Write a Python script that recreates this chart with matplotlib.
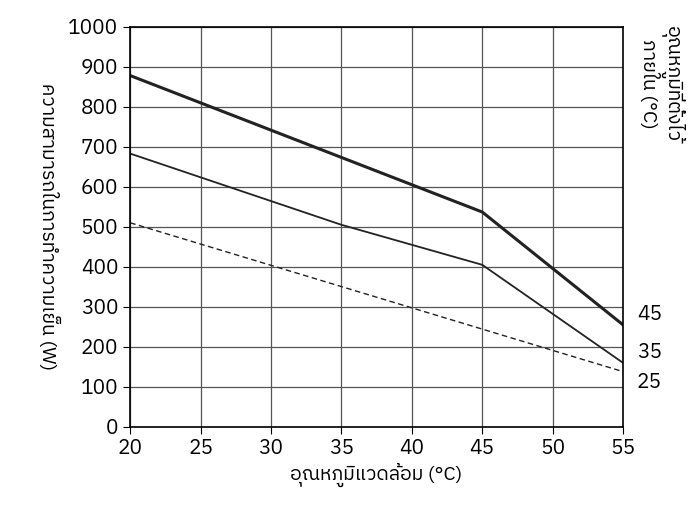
import matplotlib
matplotlib.use("Agg")
import matplotlib.pyplot as plt
from matplotlib import font_manager

# Pick up a font with Thai glyphs
thai_fonts = [f.name for f in font_manager.fontManager.ttflist if "thai" in f.name.lower() or "tahoma" in f.name.lower()]
fams = list(dict.fromkeys(thai_fonts)) + ["DejaVu Sans"]
plt.rcParams["font.family"] = fams

x_45 = [20, 45, 55]
y_45 = [878, 537, 255]
x_35 = [20, 35, 45, 55]
y_35 = [683, 505, 405, 160]
x_25 = [20, 55]
y_25 = [510, 138]
line_labels = ["45", "35", "25"]
label_y = [280, 185, 110]

fig, ax = plt.subplots(figsize=(7, 5.25), dpi=100)
fig.subplots_adjust(left=0.186, right=0.89, top=0.949, bottom=0.187)

ax.plot(x_45, y_45, color="#222222", lw=2.2)
ax.plot(x_35, y_35, color="#222222", lw=1.3)
ax.plot(x_25, y_25, color="#222222", lw=1.0, ls=(0, (4, 2.5)))

ax.set_xlim(20, 55)
ax.set_ylim(0, 1000)
ax.set_xticks(range(20, 56, 5))
ax.set_yticks(range(0, 1001, 100))
ax.grid(True, color="#555555", lw=0.9)
ax.tick_params(labelsize=15, length=5, direction="out")
for s in ax.spines.values():
    s.set_linewidth(1.2)

for lab, yv in zip(line_labels, label_y):
    ax.annotate(lab, (55, yv), xytext=(10, yv), textcoords=("offset points", "data"),
                fontsize=15, va="center")

ax.set_xlabel("อุณหภูมิแวดล้อม (°C)", fontsize=14)
ax.set_ylabel("ความสามารถในการทำความเย็น (W)", fontsize=14, rotation=-90, labelpad=22)
fig.text(0.945, 0.95, "อุณหภูมิที่ตั้งไว้\nภายใน (°C)", fontsize=14, rotation=-90,
         va="top", ha="center", linespacing=1.1)

fig.savefig("out.png")
